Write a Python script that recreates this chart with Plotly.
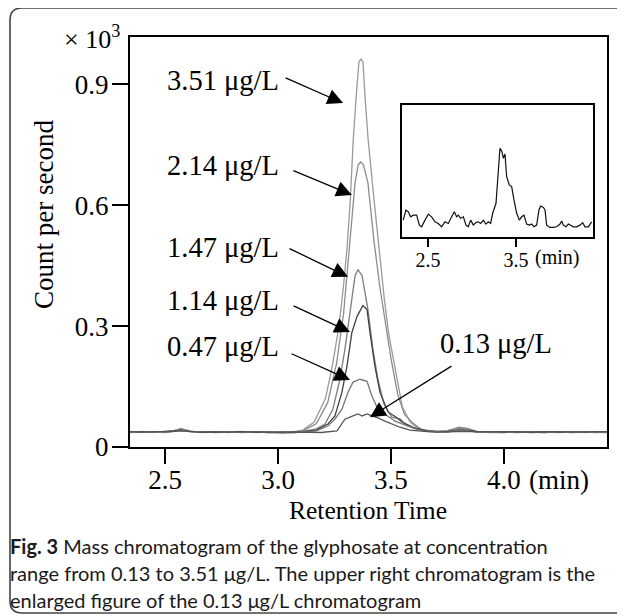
import plotly.graph_objects as go

# ---------------- data ----------------
# main chromatograms: retention time (min) and counts per second (x10^3)
base_left_t = [2.345, 2.40, 2.45, 2.50, 2.54, 2.57, 2.61, 2.66, 2.72, 2.78, 2.84, 2.90, 2.96, 3.02, 3.07, 3.11]
base_right_t = [3.66, 3.70, 3.75, 3.80, 3.84, 3.88, 3.94, 4.00, 4.06, 4.12, 4.18, 4.24, 4.30, 4.36, 4.41, 4.456]

a_left = [0.037, 0.039, 0.036, 0.038, 0.041, 0.044, 0.039, 0.037, 0.038, 0.036, 0.038, 0.037, 0.036, 0.035, 0.038, 0.042]
a_peak_t = [3.16, 3.21, 3.24, 3.27, 3.29, 3.305, 3.32, 3.333, 3.345, 3.358, 3.367, 3.376, 3.386, 3.399, 3.425, 3.442, 3.47, 3.49, 3.52, 3.55, 3.585, 3.62]
a_peak_v = [0.062, 0.12, 0.20, 0.30, 0.40, 0.49, 0.613, 0.762, 0.861, 0.955, 0.962, 0.955, 0.861, 0.762, 0.613, 0.514, 0.37, 0.28, 0.19, 0.10, 0.062, 0.046]
a_right = [0.040, 0.039, 0.041, 0.047, 0.045, 0.038, 0.037, 0.036, 0.038, 0.037, 0.036, 0.038, 0.037, 0.036, 0.038, 0.037]

b_left = [0.036, 0.038, 0.037, 0.039, 0.040, 0.046, 0.040, 0.036, 0.037, 0.037, 0.039, 0.036, 0.037, 0.036, 0.037, 0.040]
b_peak_t = [3.17, 3.22, 3.26, 3.29, 3.31, 3.325, 3.341, 3.355, 3.366, 3.378, 3.398, 3.41, 3.425, 3.45, 3.478, 3.50, 3.53, 3.56, 3.60, 3.63]
b_peak_v = [0.058, 0.11, 0.21, 0.33, 0.45, 0.55, 0.655, 0.70, 0.707, 0.70, 0.655, 0.59, 0.51, 0.40, 0.30, 0.22, 0.13, 0.08, 0.058, 0.045]
b_right = [0.039, 0.040, 0.040, 0.049, 0.046, 0.039, 0.036, 0.037, 0.037, 0.038, 0.037, 0.037, 0.038, 0.037, 0.036, 0.038]

c_left = [0.038, 0.037, 0.038, 0.037, 0.039, 0.043, 0.038, 0.038, 0.036, 0.037, 0.037, 0.038, 0.035, 0.036, 0.037, 0.039]
c_peak_t = [3.17, 3.208, 3.243, 3.274, 3.296, 3.319, 3.341, 3.354, 3.372, 3.398, 3.420, 3.442, 3.469, 3.504, 3.54, 3.562, 3.60]
c_peak_v = [0.045, 0.057, 0.094, 0.168, 0.242, 0.341, 0.425, 0.440, 0.425, 0.341, 0.242, 0.168, 0.106, 0.074, 0.070, 0.057, 0.046]
c_right = [0.041, 0.038, 0.039, 0.044, 0.042, 0.037, 0.038, 0.037, 0.036, 0.038, 0.038, 0.036, 0.037, 0.038, 0.037, 0.038]

d_left = [0.038, 0.038, 0.037, 0.038, 0.040, 0.042, 0.039, 0.037, 0.037, 0.038, 0.037, 0.037, 0.036, 0.036, 0.037, 0.038]
d_peak_t = [3.17, 3.221, 3.252, 3.283, 3.305, 3.327, 3.350, 3.376, 3.394, 3.407, 3.429, 3.451, 3.487, 3.52, 3.549, 3.60, 3.63]
d_peak_v = [0.042, 0.057, 0.077, 0.136, 0.200, 0.284, 0.324, 0.351, 0.341, 0.284, 0.200, 0.136, 0.087, 0.075, 0.062, 0.048, 0.044]
d_right = [0.040, 0.038, 0.038, 0.042, 0.041, 0.038, 0.037, 0.038, 0.037, 0.037, 0.038, 0.037, 0.037, 0.037, 0.038, 0.037]

e_left = [0.037, 0.038, 0.038, 0.036, 0.039, 0.041, 0.038, 0.038, 0.037, 0.038, 0.036, 0.038, 0.037, 0.035, 0.036, 0.038]
e_peak_t = [3.17, 3.221, 3.252, 3.283, 3.310, 3.332, 3.363, 3.394, 3.416, 3.442, 3.473, 3.518, 3.575, 3.62]
e_peak_v = [0.040, 0.052, 0.069, 0.094, 0.136, 0.161, 0.168, 0.163, 0.126, 0.094, 0.082, 0.064, 0.052, 0.043]
e_right = [0.039, 0.038, 0.037, 0.041, 0.040, 0.037, 0.037, 0.036, 0.038, 0.037, 0.036, 0.038, 0.036, 0.037, 0.037, 0.036]

f_left = [0.038, 0.037, 0.038, 0.038, 0.039, 0.040, 0.038, 0.037, 0.038, 0.037, 0.038, 0.037, 0.037, 0.036, 0.036, 0.037]
f_peak_t = [3.19, 3.261, 3.296, 3.332, 3.354, 3.372, 3.394, 3.416, 3.442, 3.473, 3.504, 3.540, 3.584, 3.63]
f_peak_v = [0.036, 0.040, 0.069, 0.077, 0.082, 0.077, 0.082, 0.077, 0.072, 0.064, 0.057, 0.049, 0.042, 0.039]
f_right = [0.038, 0.037, 0.038, 0.040, 0.039, 0.038, 0.037, 0.037, 0.038, 0.036, 0.037, 0.038, 0.037, 0.038, 0.037, 0.038]

series_names = ["3.51 μg/L", "2.14 μg/L", "1.47 μg/L", "1.14 μg/L", "0.47 μg/L", "0.13 μg/L"]
series_colors = ["#9a9a9a", "#8c8c8c", "#7d7d7d", "#404040", "#777777", "#555555"]

# inset: enlarged 0.13 ug/L chromatogram (counts per second)
inset_t = [2.219, 2.25, 2.277, 2.303, 2.333, 2.371, 2.402, 2.428, 2.466, 2.504, 2.542, 2.580,
           2.617, 2.655, 2.693, 2.731, 2.769, 2.799, 2.826, 2.845, 2.871, 2.902, 2.932, 2.958,
           2.985, 3.015, 3.045, 3.072, 3.098, 3.129, 3.159, 3.186, 3.212, 3.235, 3.273, 3.299,
           3.318, 3.341, 3.356, 3.375, 3.394, 3.424, 3.451, 3.477, 3.508, 3.538, 3.564, 3.591,
           3.621, 3.652, 3.678, 3.705, 3.735, 3.761, 3.780, 3.811, 3.830, 3.848, 3.886, 3.924,
           3.962, 4.000, 4.019, 4.038, 4.068, 4.095, 4.121, 4.152, 4.189, 4.227, 4.258, 4.284,
           4.322, 4.360]
inset_v = [37.4, 42.3, 41.4, 39.0, 39.8, 39.8, 35.0, 34.2, 37.4, 40.3, 39.0, 36.6,
           35.8, 34.2, 36.6, 35.8, 39.0, 41.4, 39.0, 39.8, 38.3, 39.0, 35.0, 34.2,
           37.4, 35.0, 36.2, 36.6, 35.8, 37.4, 35.5, 36.6, 35.8, 40.7, 45.5, 61.5,
           71.9, 70.3, 67.1, 69.2, 58.3, 54.3, 53.5, 47.1, 40.7, 37.4, 39.0, 39.8,
           35.5, 35.0, 35.5, 34.2, 35.0, 42.3, 44.2, 43.5, 42.3, 35.0, 33.9, 33.9,
           34.2, 35.5, 37.0, 35.0, 34.2, 35.5, 35.0, 34.2, 34.2, 35.0, 36.2, 34.2,
           34.2, 36.6]

x_ticks = [2.5, 3.0, 3.5, 4.0]
x_tick_text = ["2.5", "3.0", "3.5", "4.0"]
y_ticks = [0, 0.3, 0.6, 0.9]
y_tick_text = ["0", "0.3", "0.6", "0.9"]
inset_ticks = [2.5, 3.5]
inset_tick_text = ["2.5", "3.5"]

# arrow tips (data coords) and tail offsets (px) for the concentration labels
arrow_tip_t = [3.288, 3.327, 3.310, 3.319, 3.319, 3.407]
arrow_tip_v = [0.853, 0.625, 0.422, 0.285, 0.166, 0.074]
arrow_ax = [-59, -60, -60, -58, -60, 83]
arrow_ay = [-26, -25, -29, -27, -27, -52]

caption_lines = [
    "<b>Fig. 3</b> Mass chromatogram of the glyphosate at concentration",
    "range from 0.13 to 3.51 μg/L. The upper right chromatogram is the",
    "enlarged figure of the 0.13 μg/L chromatogram",
]

# ---------------- figure ----------------
# the page body has an 8 px margin, so the figure is drawn 8 px in and down;
# positions below are given in page (reference) pixels and converted.
OFF = 8
W, H = 625 - OFF, 616 - OFF
PL, PR, PT, PB = 130, 607, 37, 447          # plot box in page pixels
L, T = PL - OFF, PT - OFF
R, B = W - (PR - OFF), H - (PB - OFF)
PW, PH = PR - PL, PB - PT


def px(x):
    return (x - PL) / PW


def py(y):
    return (PB - y) / PH


SERIF = "Liberation Serif"
fig = go.Figure()

all_series = [
    (a_left, a_peak_t, a_peak_v, a_right),
    (b_left, b_peak_t, b_peak_v, b_right),
    (c_left, c_peak_t, c_peak_v, c_right),
    (d_left, d_peak_t, d_peak_v, d_right),
    (e_left, e_peak_t, e_peak_v, e_right),
    (f_left, f_peak_t, f_peak_v, f_right),
]
for (lv, pt, pv, rv), name, col in zip(all_series, series_names, series_colors):
    fig.add_trace(go.Scatter(
        x=base_left_t + pt + base_right_t,
        y=lv + pv + rv,
        mode="lines", name=name,
        line=dict(color=col, width=1.3),
        xaxis="x", yaxis="y", showlegend=False,
    ))

fig.add_trace(go.Scatter(
    x=inset_t, y=inset_v, mode="lines", line=dict(color="#111111", width=1.2),
    xaxis="x2", yaxis="y2", showlegend=False,
))

axis_common = dict(showline=True, linecolor="black", mirror=True, showgrid=False,
                   zeroline=False, ticks="outside", tickcolor="black")

fig.update_layout(
    width=W, height=H,
    margin=dict(l=L, r=R, t=T, b=B, pad=0),
    paper_bgcolor="white", plot_bgcolor="white",
    font=dict(family=SERIF, color="black"),
    xaxis=dict(axis_common, domain=[0, 1], range=[2.345, 4.456], tickvals=x_ticks,
               ticktext=x_tick_text, linewidth=2, ticklen=15, tickwidth=2,
               ticklabelstandoff=-7,
               tickfont=dict(family=SERIF, size=27, color="black")),
    yaxis=dict(axis_common, domain=[0, 1], range=[0, 1.017], tickvals=y_ticks,
               ticktext=y_tick_text, linewidth=2, ticklen=16, tickwidth=2,
               ticklabelstandoff=-2,
               tickfont=dict(family=SERIF, size=27, color="black")),
    xaxis2=dict(axis_common, anchor="y2", domain=[px(402), px(593)], range=[2.205, 4.375],
                tickvals=inset_ticks, ticktext=inset_tick_text, linewidth=1.6, ticklen=8,
                tickwidth=2, ticklabelstandoff=-4,
                tickfont=dict(family=SERIF, size=20, color="black")),
    yaxis2=dict(axis_common, anchor="x2", domain=[py(237), py(105)], range=[29.3, 92.7],
                showticklabels=False, ticks="", linewidth=1.6),
)

ann = []
# concentration labels
label_pos = [(165, 80), (165, 165), (165, 247), (165, 300), (165, 346), (438, 343)]
for name, (lx, ly) in zip(series_names, label_pos):
    ann.append(dict(text=name, xref="paper", yref="paper", x=px(lx), y=py(ly),
                    xanchor="left", yanchor="middle", showarrow=False,
                    font=dict(family=SERIF, size=28.5, color="black")))
# arrows
for t, v, ax, ay in zip(arrow_tip_t, arrow_tip_v, arrow_ax, arrow_ay):
    ann.append(dict(text="", x=t, y=v, xref="x", yref="y", ax=ax, ay=ay,
                    showarrow=True, arrowhead=2, arrowsize=2.4, arrowwidth=1.3,
                    arrowcolor="black", standoff=0))
# axis texts
ann.append(dict(text="× 10<sup>3</sup>", xref="paper", yref="paper", x=px(62), y=py(37),
                xanchor="left", yanchor="middle", showarrow=False,
                font=dict(family=SERIF, size=26, color="black")))
ann.append(dict(text="Count per second", xref="paper", yref="paper", x=px(44), y=py(215),
                xanchor="center", yanchor="middle", textangle=-90, showarrow=False,
                font=dict(family=SERIF, size=27, color="black")))
ann.append(dict(text="Retention Time", xref="paper", yref="paper", x=px(368), y=py(511),
                xanchor="center", yanchor="middle", showarrow=False,
                font=dict(family=SERIF, size=25.5, color="black")))
ann.append(dict(text="(min)", xref="paper", yref="paper", x=px(527), y=py(480),
                xanchor="left", yanchor="middle", showarrow=False,
                font=dict(family=SERIF, size=27, color="black")))
ann.append(dict(text="(min)", xref="paper", yref="paper", x=px(533), y=py(257),
                xanchor="left", yanchor="middle", showarrow=False,
                font=dict(family=SERIF, size=20, color="black")))
# caption
for i, line in enumerate(caption_lines):
    ann.append(dict(text=line, xref="paper", yref="paper", x=px(8), y=py(546 + 27 * i),
                    xanchor="left", yanchor="middle", showarrow=False, align="left",
                    font=dict(family="Lato", size=20, color="#1a1a1a")))
fig.update_layout(annotations=ann)

# rounded outer frame (open to the right edge)
x0, xr = px(10), px(645)
yt, yb = py(8), py(613)
rx, ry = 12 / PW, 12 / PH
path = (f"M {xr},{yt} L {x0 + rx},{yt} Q {x0},{yt} {x0},{yt - ry} "
        f"L {x0},{yb + ry} Q {x0},{yb} {x0 + rx},{yb} L {xr},{yb}")
fig.add_shape(type="path", path=path, xref="paper", yref="paper",
              line=dict(color="#444444", width=1.6))

fig.write_html("out.html")
